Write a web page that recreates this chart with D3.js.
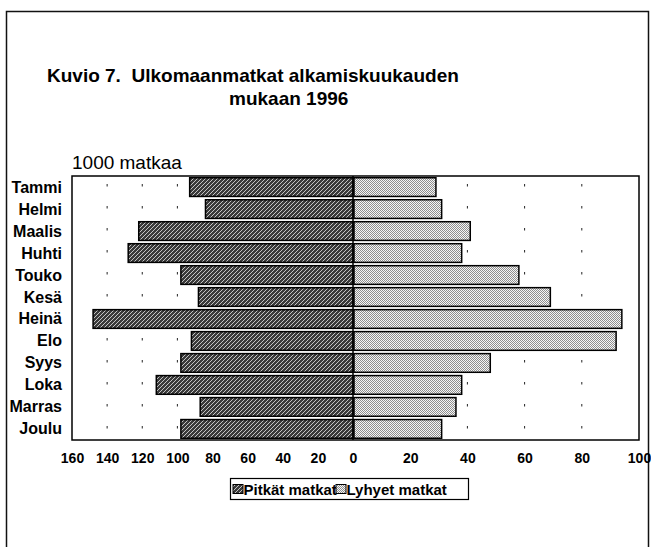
<!DOCTYPE html>
<html><head><meta charset="utf-8">
<script src="https://cdn.jsdelivr.net/npm/d3@7/dist/d3.min.js"></script>
<style>body{margin:0;background:#fff}svg{display:block}text{font-family:"Liberation Sans",Arial,sans-serif}</style>
</head><body>
<script>
const months = ["Tammi","Helmi","Maalis","Huhti","Touko","Kesä","Heinä","Elo","Syys","Loka","Marras","Joulu"];
const pitkat = [93, 84, 122, 128, 98, 88, 148, 92, 98, 112, 87, 98];
const lyhyet = [29, 31, 41, 38, 58, 69, 94, 92, 48, 38, 36, 31];
const leftTicks = [160,140,120,100,80,60,40,20,0];
const rightTicks = [20,40,60,80,100];
const seriesNames = ["Pitkät matkat","Lyhyet matkat"];

const W=651,H=547;
const svg=d3.select("body").append("svg").attr("width",W).attr("height",H);
const defs=svg.append("defs");
const pd=defs.append("pattern").attr("id","pdark").attr("patternUnits","userSpaceOnUse").attr("width",4).attr("height",4);
pd.append("rect").attr("width",4).attr("height",4).attr("fill","#3a3a3a");
pd.append("path").attr("d","M0,4L4,0M-1,1L1,-1M3,5L5,3").attr("stroke","#c4c4c4").attr("stroke-width",1);
const pl=defs.append("pattern").attr("id","plight").attr("patternUnits","userSpaceOnUse").attr("width",2).attr("height",2);
pl.append("rect").attr("width",2).attr("height",2).attr("fill","#f6f6f6");
pl.append("rect").attr("width",1).attr("height",1).attr("fill","#8e8e8e");
pl.append("rect").attr("x",1).attr("y",1).attr("width",1).attr("height",1).attr("fill","#8e8e8e");

// outer frame
svg.append("path").attr("d","M6.5,547V11.5H648.5V547").attr("fill","none").attr("stroke","#111").attr("stroke-width",1.5);

svg.append("text").attr("x",47).attr("y",82).attr("font-size",19).attr("font-weight","bold").style("white-space","pre").text("Kuvio 7.  Ulkomaanmatkat alkamiskuukauden");
svg.append("text").attr("x",229).attr("y",105).attr("font-size",19).attr("font-weight","bold").text("mukaan 1996");
svg.append("text").attr("x",72).attr("y",169).attr("font-size",19).text("1000 matkaa");

const L=72,R=639,T=176,B=440,C=353;
const y=d3.scaleBand().domain(months).range([T,B]).paddingInner(0.15).paddingOuter(0.08);
const xl=d3.scaleLinear().domain([0,160]).range([C,L]);
const xr=d3.scaleLinear().domain([0,100]).range([C,R]);

// gridlines (dotted)
const g=svg.append("g");
leftTicks.filter(d=>d>0&&d<160).forEach(t=>{
  g.append("line").attr("x1",xl(t)).attr("x2",xl(t)).attr("y1",T).attr("y2",B).attr("stroke","#222").attr("stroke-width",1).attr("stroke-dasharray","2.5,19.5").attr("stroke-dashoffset",-8);
});
rightTicks.filter(d=>d<100).forEach(t=>{
  g.append("line").attr("x1",xr(t)).attr("x2",xr(t)).attr("y1",T).attr("y2",B).attr("stroke","#222").attr("stroke-width",1).attr("stroke-dasharray","2.5,19.5").attr("stroke-dashoffset",-8);
});

// bars
svg.append("g").selectAll("rect").data(months).join("rect")
  .attr("x",(d,i)=>xl(pitkat[i])).attr("y",d=>y(d)).attr("width",(d,i)=>C-xl(pitkat[i])).attr("height",y.bandwidth())
  .attr("fill","url(#pdark)").attr("stroke","#000").attr("stroke-width",1.5);
svg.append("g").selectAll("rect").data(months).join("rect")
  .attr("x",C+1).attr("y",d=>y(d)).attr("width",(d,i)=>xr(lyhyet[i])-C-1).attr("height",y.bandwidth())
  .attr("fill","url(#plight)").attr("stroke","#000").attr("stroke-width",1.5);

// plot frame
svg.append("rect").attr("x",L).attr("y",T).attr("width",R-L).attr("height",B-T).attr("fill","none").attr("stroke","#000").attr("stroke-width",1.5);
svg.append("line").attr("x1",C).attr("x2",C).attr("y1",T).attr("y2",B).attr("stroke","#000").attr("stroke-width",1.5);

// y labels
svg.append("g").selectAll("text").data(months).join("text")
  .attr("x",62).attr("y",d=>y(d)+y.bandwidth()/2+5.5).attr("text-anchor","end")
  .attr("font-size",16).attr("font-weight","bold").text(d=>d);

// x axes
const axL=svg.append("g").attr("transform",`translate(0,${B})`).call(d3.axisBottom(xl).tickValues(leftTicks).tickSize(0).tickPadding(13));
const axR=svg.append("g").attr("transform",`translate(0,${B})`).call(d3.axisBottom(xr).tickValues(rightTicks).tickSize(0).tickPadding(13));
[axL,axR].forEach(a=>{a.select(".domain").remove();a.selectAll("text").attr("font-size",14).attr("font-weight","bold").attr("fill","#000").style("font-family","'Liberation Sans',Arial,sans-serif");});

// legend
const lg=svg.append("g");
lg.append("rect").attr("x",230.5).attr("y",478.5).attr("width",238).attr("height",21).attr("fill","#fff").attr("stroke","#000").attr("stroke-width",1.2);
const items=[{n:seriesNames[0],f:"url(#pdark)",x:233},{n:seriesNames[1],f:"url(#plight)",x:336}];
items.forEach(it=>{
  lg.append("text").attr("x",it.x+10.5).attr("y",494.5).attr("font-size",15).attr("font-weight","bold").text(it.n);
});
items.forEach(it=>{
  lg.append("rect").attr("x",it.x).attr("y",484.5).attr("width",10).attr("height",9).attr("fill",it.f).attr("stroke","#000").attr("stroke-width",1);
});
</script>
</body></html>
